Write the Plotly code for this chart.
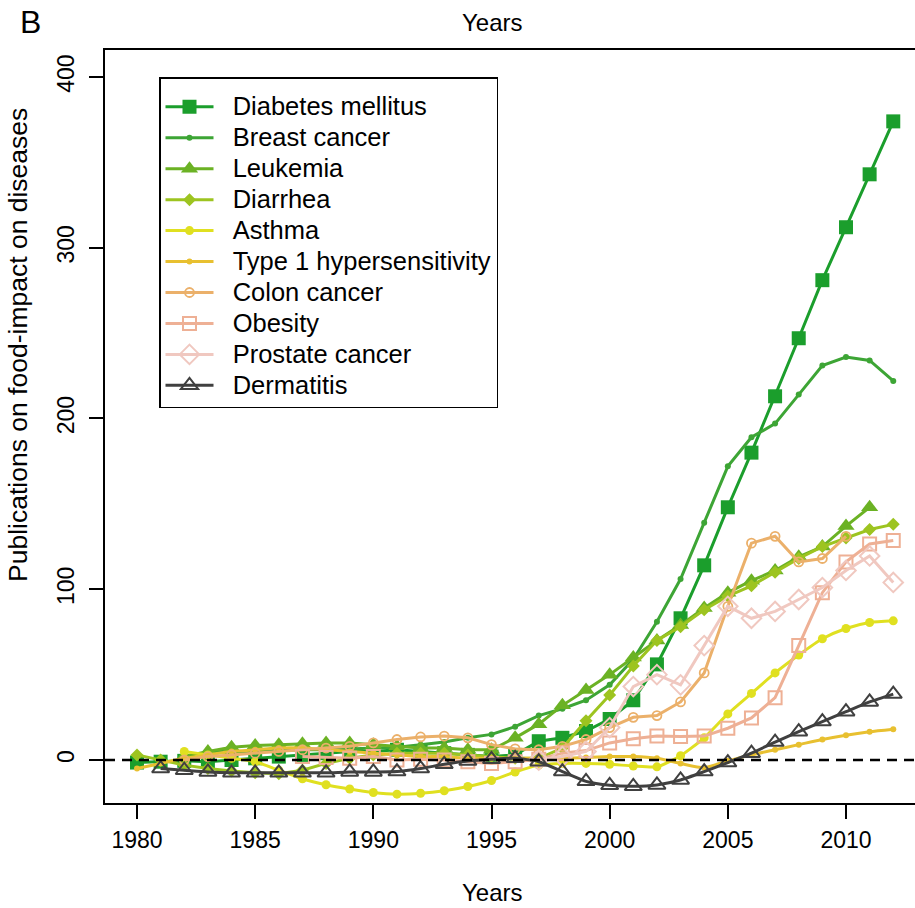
import plotly.graph_objects as go

years = list(range(1980, 2013))

diabetes = [-1.5, -1, -0.5, -1, 0, 1, 2, 3, 4, 5, 5, 6, 5, 4, 3, 2, 3,
            11, 13, 17, 24, 35, 56, 83, 114, 148, 180, 213, 247, 281, 312, 343, 374]
breast = [None, None, None, 5, 5, 5, 5.5, 6, 6, 6.5, 7, 7.5, 9, 10.5, 13, 15, 19.5,
          26, 30, 35, 44, 59, 81, 106, 139, 172, 189, 197, 214, 231, 236, 234, 222]
leukemia = [None, None, 2, 5, 7.5, 8.5, 9, 9.5, 10, 10, 9, 8, 7, 7, 6, 6, 13,
            21, 32, 41, 50, 60, 70, 79, 89, 98, 105, 111, 119, 125, 137, 148, None]
diarrhea = [3, 0, -3, -5, -6.5, -7.5, -8, -6, -2, 1, 3, 4, 4, 4, 3, 2, 1,
            1, 7, 23, 38, 55, 70, 78, 88, 96, 102, 110, 118, 125, 130, 135, 138]
asthma = [None, None, 5, 3, 1, -1, -6, -11, -14.5, -17, -19, -20, -19.5, -18, -15.5, -12, -7,
          -3, -2, -2, -2.5, -3.5, -4, 2.5, 13, 27, 39, 51, 61.5, 71, 77, 80.5, 81.5]
type1 = [-5, -2, 1, 3, 5, 6, 7, 7, 6, 5, 4, 3, 2, 2, 1, 1, 1,
         1, 1, 1.5, 2, 2, 1, -2, -4.5, -0.5, 3, 6, 9, 12, 14.5, 16.5, 18]
colon = [None, None, 0, 2, 3, 4, 5, 6, 7, 8, 10, 12, 13.5, 14, 13, 9, 6.5,
         6, 8, 12, 19, 25, 26, 34, 51, 90, 127, 131, 116, 118, 131, None, None]
obesity = [None] * 7 + [2, 1.5, 1, 2, 0, 0.5, 0, -1, -2, -1,
                        0.5, 4, 5.5, 10, 12.5, 14, 13.7, 14, 18.6, 24.6, 36.5, 67, 98, 116, 126.5, 128.5]
prostate = [None] * 17 + [0, 2, 5, 19, 43, 50, 44, 67, 90, 83, 87, 94, 101, 111, 119.5, 104]
dermatitis = [None, -5, -6, -7, -7.5, -7.5, -7.5, -7.5, -7.5, -7, -7, -6.8, -5, -2.5, -0.6, 0.4, 1,
              -1, -6.8, -12.5, -14.8, -15.4, -14.6, -11.7, -6.8, -1.5, 4, 10.5, 16.6, 22.5, 28.3, 34, 38.6]

series = [
    ("Diabetes mellitus", diabetes, "#1b9e2c", "square", 14, None, "linear"),
    ("Breast cancer", breast, "#3da535", "circle", 6, None, "linear"),
    ("Leukemia", leukemia, "#6bb224", "triangle-up", 15, None, "linear"),
    ("Diarrhea", diarrhea, "#9dc420", "diamond", 10, None, "linear"),
    ("Asthma", asthma, "#e0e020", "circle", 9, None, "spline"),
    ("Type 1 hypersensitivity", type1, "#e8c030", "circle", 6, None, "spline"),
    ("Colon cancer", colon, "#ebb06a", "circle-open", 9, 1.8, "linear"),
    ("Obesity", obesity, "#eeb095", "square-open", 13, 2, "linear"),
    ("Prostate cancer", prostate, "#f0c8c0", "diamond-open", 15, 2, "linear"),
    ("Dermatitis", dermatitis, "#404040", "triangle-up-open", 15, 2, "spline"),
]

fig = go.Figure()
for name, vals, col, sym, size, mlw, shape in series:
    marker = dict(symbol=sym, size=size, color=col)
    if mlw:
        marker["line"] = dict(color=col, width=mlw)
    line = dict(color=col, width=3, shape=shape)
    if shape == "spline":
        line["smoothing"] = 0.6
    fig.add_trace(go.Scatter(x=years, y=vals, mode="lines+markers",
                             name='<span style="font-size:25.5px">&nbsp;&nbsp;' + name + '</span>',
                             line=line, marker=marker))

FONT = "Liberation Sans, Arial, sans-serif"

fig.add_shape(type="line", xref="paper", yref="y", x0=0, x1=1, y0=0, y1=0,
              line=dict(color="black", width=2.5, dash="10px,7px"))

fig.update_layout(
    width=915, height=908,
    margin=dict(l=105, r=0, t=50, b=105),
    plot_bgcolor="white", paper_bgcolor="white",
    font=dict(family=FONT, size=24, color="black"),
    showlegend=True,
    legend=dict(x=(159 - 105) / 810, y=(803 - 77) / 753, xanchor="left", yanchor="top",
                bgcolor="white", bordercolor="black", borderwidth=1.5,
                font=dict(size=21.5, family=FONT), itemwidth=48,
                tracegroupgap=0,
                title=dict(text=".", font=dict(size=6, color="white"))),
    xaxis=dict(range=[1978.646, 2012.92], tickvals=[1980, 1985, 1990, 1995, 2000, 2005, 2010],
               showgrid=False, zeroline=False, showline=True, linecolor="black", linewidth=1.5,
               mirror=True, ticks="outside", ticklen=14, tickwidth=1.5, tickcolor="black",
               tickfont=dict(size=23), ticklabelstandoff=2),
    yaxis=dict(range=[-25.18, 415.8], tickvals=[0, 100, 200, 300, 400],
               showgrid=False, zeroline=False, showline=True, linecolor="black", linewidth=1.5,
               ticks="outside", ticklen=14, tickwidth=1.5, tickcolor="black",
               tickangle=-90, tickfont=dict(size=23), ticklabelstandoff=6),
    annotations=[
        dict(text="Years", xref="paper", yref="paper", x=(492 - 105) / 810, y=(803 - 893) / 753,
             showarrow=False, font=dict(size=24), xanchor="center", yanchor="middle"),
        dict(text="Years", xref="paper", yref="paper", x=(492 - 105) / 810, y=(803 - 22) / 753,
             showarrow=False, font=dict(size=24), xanchor="center", yanchor="middle"),
        dict(text="B", xref="paper", yref="paper", x=(30 - 105) / 810, y=(803 - 22) / 753,
             showarrow=False, font=dict(size=32), xanchor="center", yanchor="middle"),
        dict(text="Publications on food-impact on diseases", xref="paper", yref="paper",
             x=(18 - 105) / 810, y=(803 - 345) / 753, textangle=-90, showarrow=False,
             font=dict(size=26.5), xanchor="center", yanchor="middle"),
    ],
)

fig.write_html("out.html", config={"displayModeBar": False},
               post_script="document.body.style.margin='0px';")
